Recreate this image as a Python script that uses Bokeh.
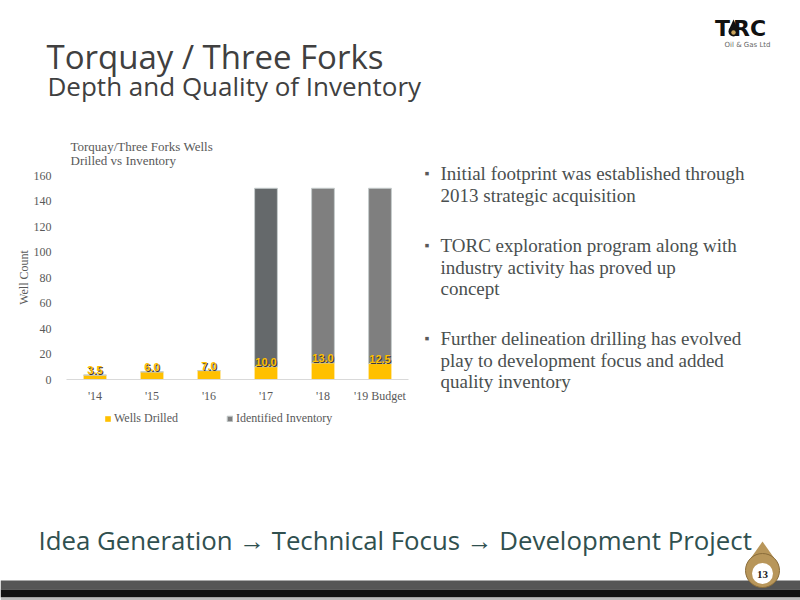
from bokeh.plotting import figure
from bokeh.models import (ColumnDataSource, FixedTicker, Legend, LegendItem, Range1d)
from bokeh.core.properties import value
from bokeh.embed import file_html
from bokeh.resources import INLINE

# ---- data ----
years = ["'14", "'15", "'16", "'17", "'18", "'19 Budget"]
wells_drilled = [3.5, 6.0, 7.0, 10.0, 13.0, 12.5]
identified_inventory = [0, 0, 0, 140, 137, 137.5]
inventory_colors = ["#7f7f7f", "#7f7f7f", "#7f7f7f", "#65696b", "#7f7f7f", "#7f7f7f"]
y_ticks = [0, 20, 40, 60, 80, 100, 120, 140, 160]

chart_title = ["Torquay/Three Forks Wells", "Drilled vs Inventory"]
bullets = [
    ["Initial footprint was established through", "2013 strategic acquisition"],
    ["TORC exploration program along with", "industry activity has proved up", "concept"],
    ["Further delineation drilling has evolved", "play to development focus and added", "quality inventory"],
]

SERIF = "Liberation Serif"
SANS = "Open Sans"

# ---- geometry: the frame covers the whole canvas; chart area in page px ----
W, H = 800, 600
FL, FT, FR, FB = 66, 175, 408, 379
CAT_PX = (FR - FL) / len(years)          # px per category
Y_PX = (FB - FT) / 160.0                 # px per well


def X(px):
    return (px - FL) / CAT_PX


def Y(py):
    return (FB - py) / Y_PX


p = figure(width=W, height=H, x_range=Range1d(X(0), X(W)), y_range=Range1d(Y(H), Y(0)),
           output_backend="svg", toolbar_location=None, min_border=0)
p.outline_line_color = None
p.grid.visible = False
p.background_fill_color = "white"
p.border_fill_color = "white"

# ---- chart ----
xpos = [i + 0.5 for i in range(len(years))]
top_total = [d + i for d, i in zip(wells_drilled, identified_inventory)]
src = ColumnDataSource(dict(x=xpos, drilled=wells_drilled, inv=identified_inventory,
                            top=top_total, color=inventory_colors,
                            lbl=[f"{v:.1f}" for v in wells_drilled]))

r_drilled = p.vbar(x="x", top="drilled", bottom=0, width=0.4, source=src,
                   fill_color="#ffc000", line_color=None)
r_inv = p.vbar(x="x", top="top", bottom="drilled", width=0.4, source=src,
               fill_color="color", line_color="#c5cccc", line_width=1)

p.text(x="x", y="drilled", text="lbl", source=src, text_align="center",
       text_baseline="bottom", x_offset=1, y_offset=0, text_font=value("Liberation Sans"),
       text_font_size="11px", text_font_style="bold", text_color="#3a3a3a")
p.text(x="x", y="drilled", text="lbl", source=src, text_align="center",
       text_baseline="bottom", y_offset=-1, text_font=value("Liberation Sans"),
       text_font_size="11px", text_font_style="bold", text_color="#ffc000")

yax = p.yaxis[0]
yax.fixed_location = 0
yax.bounds = (0, 160)
yax.ticker = FixedTicker(ticks=y_ticks)
yax.axis_line_color = None
yax.major_tick_line_color = None
yax.major_tick_out = 0
yax.minor_tick_line_color = None
yax.major_label_standoff = 15
yax.major_label_text_font = SERIF
yax.major_label_text_font_size = "12px"
yax.major_label_text_color = "#595959"
yax.axis_label = "Well Count"
yax.axis_label_text_font = SERIF
yax.axis_label_text_font_size = "12px"
yax.axis_label_text_font_style = "normal"
yax.axis_label_text_color = "#595959"
yax.axis_label_standoff = 0

xax = p.xaxis[0]
xax.fixed_location = 0
xax.bounds = (0, len(years))
xax.ticker = FixedTicker(ticks=xpos)
xax.major_label_overrides = {x: y for x, y in zip(xpos, years)}
xax.axis_line_color = "#d9d9d9"
xax.major_tick_line_color = None
xax.major_tick_out = 0
xax.minor_tick_line_color = None
xax.major_label_standoff = 9
xax.major_label_text_font = SERIF
xax.major_label_text_font_size = "12px"
xax.major_label_text_color = "#595959"

legend = Legend(items=[LegendItem(label="Wells Drilled", renderers=[r_drilled]),
                       LegendItem(label="Identified Inventory", renderers=[r_inv], index=4)],
                orientation="horizontal", location=(104, H - 426),
                glyph_width=7, glyph_height=7, label_height=12, label_standoff=3,
                spacing=48, padding=0, margin=0, border_line_color=None,
                background_fill_alpha=0, label_text_font=SERIF,
                label_text_font_size="12px", label_text_color="#595959")
p.add_layout(legend)


def txt(px, py, s, size, color, font, style="normal", align="left", baseline="middle"):
    p.text(x=[X(px)], y=[Y(py)], text=[s], text_font=value(font), text_font_size=size,
           text_color=color, text_font_style=style, text_align=align,
           text_baseline=baseline)


# chart title
txt(70, 146, chart_title[0], "13px", "#595959", SERIF)
txt(70, 160, chart_title[1], "13px", "#595959", SERIF)

# ---- slide titles ----
txt(46, 56, "Torquay / Three Forks", "33px", "#404040", SANS, baseline="alphabetic")
txt(47, 85, "Depth and Quality of Inventory", "26px", "#404040", SANS, baseline="alphabetic")

# logo
txt(722, 28, "T", "22px", "#111111", "DejaVu Sans", style="bold", align="center")
txt(749, 28, "RC", "22px", "#111111", "DejaVu Sans", style="bold", align="center")
p.scatter(x=[X(733)], y=[Y(31)], marker="circle", size=10, fill_color="#111111", line_color=None)
p.patch(x=[X(728.3), X(733), X(737.7)], y=[Y(29.5), Y(19), Y(29.5)],
        fill_color="#111111", line_color=None)
p.scatter(x=[X(733)], y=[Y(32)], marker="circle", size=4.5, fill_color="#c8a25a", line_color=None)
txt(747, 44, "Oil & Gas Ltd", "7px", "#666666", "DejaVu Sans", align="center")

# ---- bullets ----
starts = [173, 245, 338]
for block, y0 in zip(bullets, starts):
    txt(424, y0, "\u25aa", "14px", "#595959", SERIF)
    for k, line in enumerate(block):
        txt(440, y0 + k * 21.5, line, "19px", "#4a4f4f", SERIF)

# ---- footer ----
txt(38, 539, "Idea Generation \u2192 Technical Focus \u2192 Development Project",
    "25.8px", "#30504f", SANS)
p.quad(left=[X(0)], right=[X(W)], top=[Y(580)], bottom=[Y(589)], fill_color="#555555", line_color=None)
p.quad(left=[X(0)], right=[X(W)], top=[Y(589)], bottom=[Y(597)], fill_color="#111111", line_color=None)
p.quad(left=[X(0)], right=[X(W)], top=[Y(597)], bottom=[Y(H)], fill_color="#bbbbbb", line_color=None)
# page-number drop
p.patch(x=[X(746.5), X(762), X(777.5)], y=[Y(563), Y(541), Y(563)], fill_color="#b8965a", line_color=None)
p.scatter(x=[X(762)], y=[Y(570)], marker="circle", size=34, fill_color="#b8965a", line_color="#8a6d3b")
p.scatter(x=[X(762)], y=[Y(573)], marker="circle", size=21, fill_color="white", line_color=None)
txt(762, 574, "13", "11px", "#222222", SERIF, style="bold", align="center")

open("out.html", "w").write(file_html(p, INLINE))
